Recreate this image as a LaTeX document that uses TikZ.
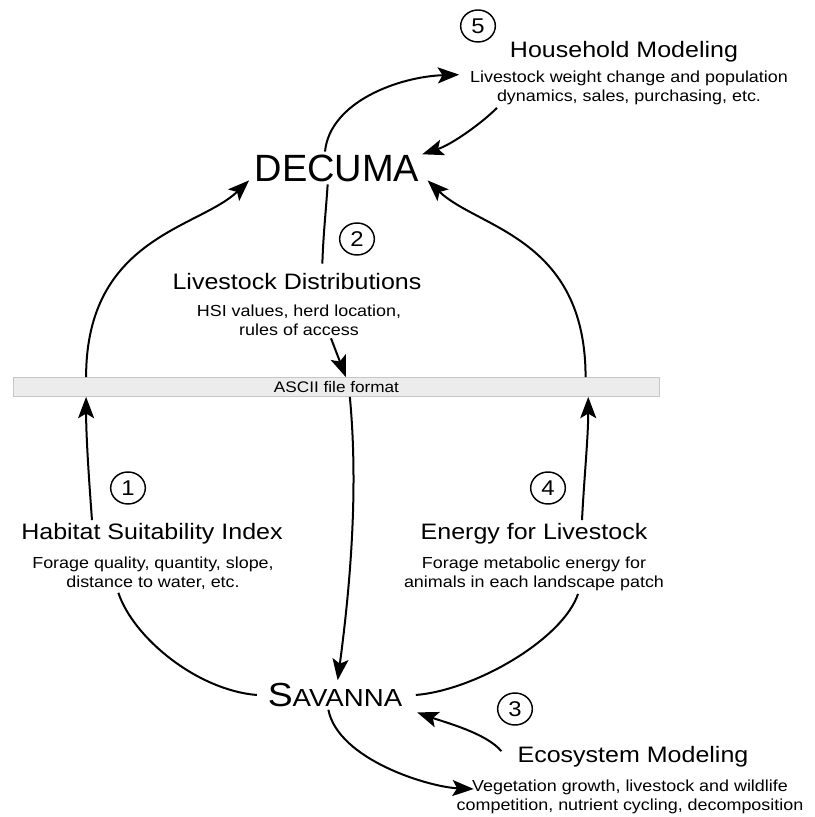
\documentclass[tikz,border=0pt]{standalone}
\usepackage{fontspec}
\setmainfont[FakeStretch=1.12]{Liberation Sans}
\newfontfamily\decfont{Liberation Sans}
\usetikzlibrary{arrows.meta,shapes.geometric}
\begin{document}
\begin{tikzpicture}[x=0.75pt,y=0.75pt,
flow/.style={line width=1.5pt,-{Stealth[length=16pt,width=12pt,inset=3.5pt]}},
link/.style={line width=1.5pt},
num/.style={draw,ellipse,line width=1.1pt,minimum width=26pt,minimum height=24pt,inner sep=0pt,font=\fontsize{16}{16}\selectfont},
title/.style={inner sep=2pt,font=\fontsize{16.75}{16.75}\selectfont},
desc/.style={inner sep=2pt,align=center,font=\fontsize{12}{14.25}\selectfont},
filebar/.style={minimum width=485pt,minimum height=14.25pt,inner sep=0pt,fill=gray!15,draw=gray!45,line width=0.6pt,font=\fontsize{11.5}{11.5}\selectfont}]
\useasboundingbox (0,0) rectangle (814,817);
% models
\node (dec) [inner sep=2pt,font=\decfont\fontsize{28.5}{28.5}\selectfont] at (337,649) {DECUMA};
\node (sav) [inner sep=2pt] at (335,122) {{\fontsize{25}{25}\selectfont S}{\fontsize{18.5}{18.5}\selectfont AVANNA}};
\node (bar) [filebar] at (336.5,430) {ASCII file format};
% household
\node (c5) [num] at (478,791) {5};
\node (t5) [title] at (624,765.5) {Household Modeling};
\node (d5) [desc] at (629,729) {Livestock weight change and population\\dynamics, sales, purchasing, etc.};
% distributions
\node (c2) [num] at (357,578) {2};
\node (t2) [title] at (297,535.5) {Livestock Distributions};
\node (d2) [desc] at (299,497) {HSI values, herd location,\\rules of access};
% habitat
\node (c1) [num] at (128,329) {1};
\node (t1) [title] at (152,283.5) {Habitat Suitability Index};
\node (d1) [desc] at (153,243.5) {Forage quality, quantity, slope,\\distance to water, etc.};
% energy
\node (c4) [num] at (548,329) {4};
\node (t4) [title] at (534,283.5) {Energy for Livestock};
\node (d4) [desc] at (534,243) {Forage metabolic energy for\\animals in each landscape patch};
% ecosystem
\node (c3) [num] at (515,108) {3};
\node (t3) [title] at (633,60.5) {Ecosystem Modeling};
\node (d3) [desc] at (630,20) {Vegetation growth, livestock and wildlife\\competition, nutrient cycling, decomposition};

\draw[flow] ([xshift=-9pt]dec.north) .. controls +(5,50) and +(-60,-2) .. ([xshift=-6pt,yshift=10pt]d5.west);
\draw[flow] ([xshift=-99pt]d5.south) .. controls +(-15,-15) and +(30,10) .. ([yshift=-2pt]dec.north east);
\draw[link] ([xshift=-7pt]dec.south) .. controls +(-2,-30) and +(1,30) .. ([xshift=19pt,yshift=5pt]t2.north);
\draw[flow] ([xshift=24pt]d2.south) -- ([xshift=7pt]bar.north);
\draw[flow] ([xshift=10pt]bar.south) .. controls +(9,-95) and +(12,90) .. ([xshift=2pt]sav.north);
\draw[link] ([xshift=-6pt]sav.west) .. controls +(-60,5) and +(15,-45) .. ([xshift=-26pt]d1.south);
\draw[flow] ([xshift=-45pt]t1.north) .. controls +(-3,40) and +(0,-40) .. ([xshift=55pt]bar.south west);
\draw[flow] ([xshift=55pt]bar.north west) .. controls +(0,140) and +(-50,-48) .. ([xshift=-2pt,yshift=3pt]dec.south west);
\draw[link] ([xshift=8pt]sav.east) .. controls +(60,5) and +(-15,-45) .. ([xshift=33pt]d4.south);
\draw[flow] ([xshift=36pt]t4.north) .. controls +(2,40) and +(0,-40) .. ([xshift=-54pt]bar.south east);
\draw[flow] ([xshift=-56pt]bar.north east) .. controls +(0,140) and +(50,-48) .. ([xshift=4pt,yshift=3pt]dec.south east);
\draw[flow] ([xshift=-10pt,yshift=4pt]t3.west) .. controls +(-15,18) and +(28,-10) .. ([xshift=9pt,yshift=-2pt]sav.south east);
\draw[flow] ([xshift=-5pt]sav.south) .. controls +(10,-50) and +(-45,2) .. ([xshift=15pt,yshift=6pt]d3.west);
\end{tikzpicture}
\end{document}
